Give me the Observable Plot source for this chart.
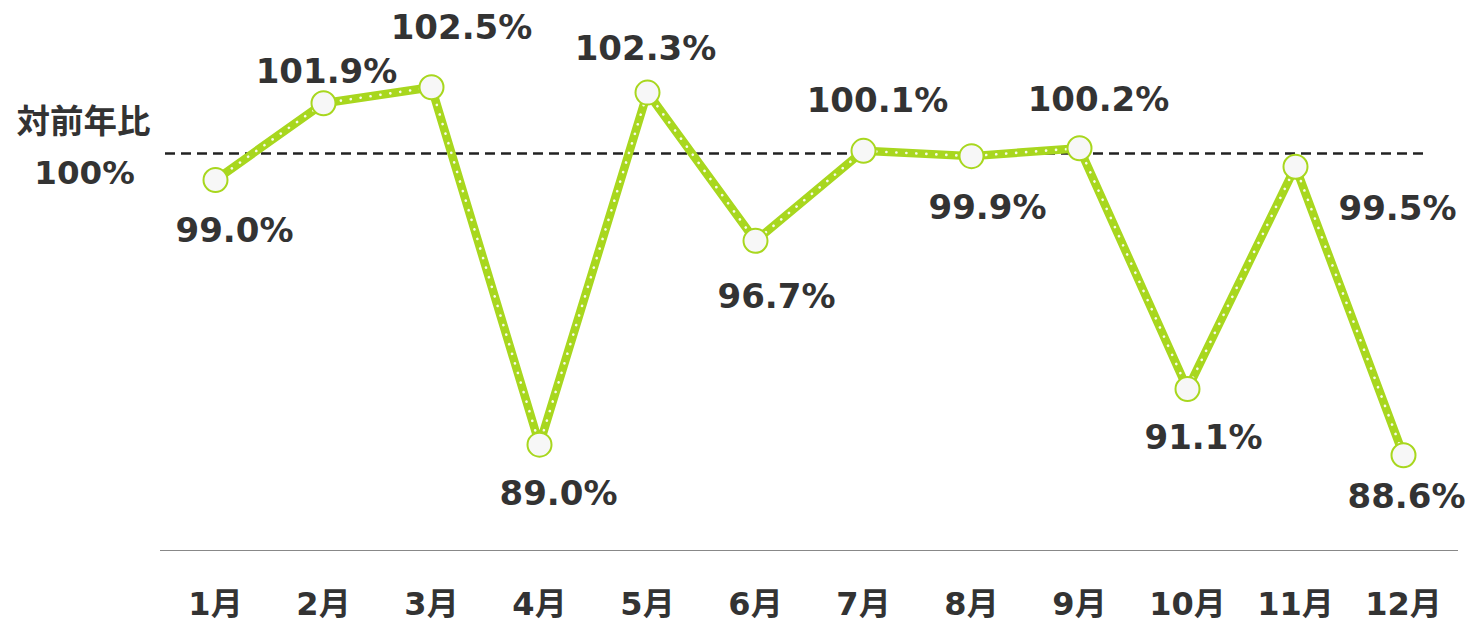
<!DOCTYPE html>
<html>
<head>
<meta charset="utf-8">
<script src="https://cdn.jsdelivr.net/npm/d3@7"></script>
<script src="https://cdn.jsdelivr.net/npm/@observablehq/plot@0.6"></script>
<style>
  html, body { margin: 0; padding: 0; background: #fff; }
  #chart { width: 1471px; height: 622px; }
</style>
</head>
<body>
<div id="chart"></div>
<script>
const months = ["1月","2月","3月","4月","5月","6月","7月","8月","9月","10月","11月","12月"];
const values = [99.0, 101.9, 102.5, 89.0, 102.3, 96.7, 100.1, 99.9, 100.2, 91.1, 99.5, 88.6];
const valueLabels = ["99.0%","101.9%","102.5%","89.0%","102.3%","96.7%","100.1%","99.9%","100.2%","91.1%","99.5%","88.6%"];
const baseline = 100;
const baselineLabel = "100%";
const baselineTitle = "対前年比";
// label placement offsets (layout only)
const labelOffsets = [[19,51],[3,-31],[30,-59],[19,49],[-2,-43],[21,56],[14,-50],[16,52],[19,-48],[16,49],[102,42],[3,42]];

const data = months.map((m, i) => ({month: m, value: values[i], label: valueLabels[i], off: labelOffsets[i]}));

const font = "'DejaVu Sans', 'Noto Sans CJK JP', sans-serif";
const green = "#a8d71e";
const textColor = "#333333";

const labelMarks = data.map(d => Plot.text([d], {
  x: "month", y: "value", text: "label",
  dx: d.off[0], dy: d.off[1],
  fontSize: 34, fontWeight: "bold", fill: textColor
}));

const chart = Plot.plot({
  width: 1471,
  height: 622,
  marginLeft: 160,
  marginRight: 13,
  marginTop: 0,
  marginBottom: 72,
  style: {fontFamily: font, background: "#fff", overflow: "visible"},
  x: {type: "band", domain: months, padding: 0, label: null},
  y: {domain: [85, 105.78], label: null},
  marks: [
    Plot.axisX({tickSize: 0, tickPadding: 42, fontSize: 32, fontWeight: "bold", fill: textColor, label: null}),
    Plot.axisY({ticks: [baseline], tickFormat: () => baselineLabel, tickSize: 0, tickPadding: 27, textAnchor: "middle", dx: -49, dy: 20, fontSize: 32.5, fontWeight: "bold", fill: textColor, label: null}),
    Plot.text([baseline], {y: d => d, frameAnchor: "left", dx: -77, dy: -31, text: () => baselineTitle, fontSize: 33.5, fontWeight: "bold", fill: textColor, textAnchor: "middle"}),
    Plot.ruleY([85], {stroke: "#888", strokeWidth: 1.2}),
    Plot.ruleY([baseline], {stroke: "#222", strokeWidth: 2.4, strokeDasharray: "10 6", insetLeft: 5, insetRight: 31}),
    Plot.line(data, {x: "month", y: "value", stroke: green, strokeWidth: 8.5, strokeLinejoin: "miter"}),
    Plot.line(data, {x: "month", y: "value", stroke: "#ffffff", strokeWidth: 2.6, strokeDasharray: "0.1 9.9", strokeLinecap: "round", strokeOpacity: 0.9}),
    Plot.dot(data, {x: "month", y: "value", r: 12, fill: "#f7f7f7", stroke: green, strokeWidth: 2}),
    ...labelMarks
  ]
});
document.getElementById("chart").appendChild(chart);
</script>
</body>
</html>
